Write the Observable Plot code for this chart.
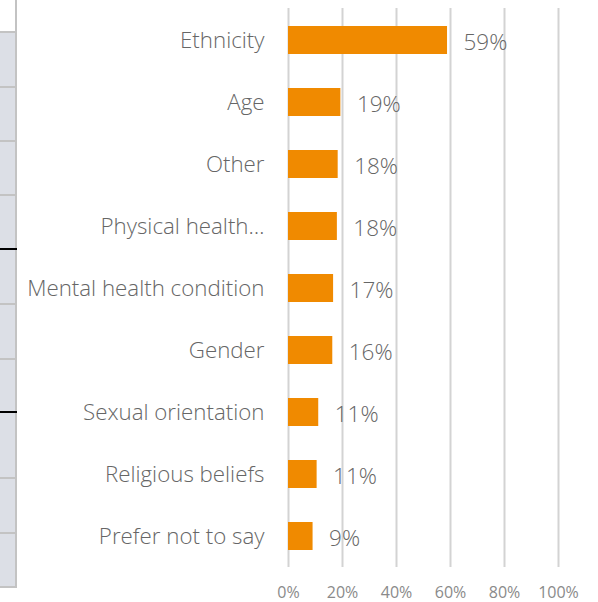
<!DOCTYPE html>
<html>
<head>
<meta charset="utf-8">
<script src="https://cdn.jsdelivr.net/npm/d3@7"></script>
<script src="https://cdn.jsdelivr.net/npm/@observablehq/plot@0.6"></script>
<style>
  html, body { margin: 0; padding: 0; background: #fff; }
  #wrap { position: relative; width: 598px; height: 602px; overflow: hidden; }
  #strip { position: absolute; left: 0; top: 0; width: 15px; height: 586px;
           background: #dcdfe6; border-right: 2px solid #c3c3c3; border-bottom: 2px solid #c3c3c3; }
  #strip .cell { position: absolute; left: 0; width: 15px; }
  #chart { position: absolute; left: 0; top: 0; }
</style>
</head>
<body>
<div id="wrap">
  <div id="strip"></div>
  <div id="chart"></div>
</div>
<script>
const categories = ["Ethnicity", "Age", "Other", "Physical health…", "Mental health condition",
                    "Gender", "Sexual orientation", "Religious beliefs", "Prefer not to say"];
const values = [58.9, 19.4, 18.4, 18.1, 16.7, 16.4, 11.2, 10.6, 9.1];
const labels = ["59%", "19%", "18%", "18%", "17%", "16%", "11%", "11%", "9%"];
const xTicks = [0, 20, 40, 60, 80, 100];

// decorative spreadsheet edge on the left
(function () {
  const strip = document.getElementById("strip");
  const top = document.createElement("div");
  top.className = "cell";
  top.style.top = "0px"; top.style.height = "31px"; top.style.background = "#fff";
  strip.appendChild(top);
  const lines = [[31, "#c3c3c3"], [86, "#c3c3c3"], [140, "#c3c3c3"], [194, "#c3c3c3"], [248, "#000"],
                 [303, "#c3c3c3"], [358, "#c3c3c3"], [411, "#000"], [477, "#c3c3c3"], [532, "#c3c3c3"]];
  for (const [y, c] of lines) {
    const d = document.createElement("div");
    d.className = "cell";
    d.style.top = y + "px"; d.style.height = "2px"; d.style.background = c;
    if (c === "#000") d.style.width = "17px";
    strip.appendChild(d);
  }
})();

const data = categories.map((c, i) => ({category: c, value: values[i], label: labels[i]}));

const chart = Plot.plot({
  width: 598,
  height: 602,
  marginTop: 8,
  marginBottom: 35,
  marginLeft: 288,
  marginRight: 40,
  style: { fontFamily: "'Open Sans', sans-serif", background: "transparent" },
  x: {
    domain: [0, 100],
    ticks: xTicks,
    tickFormat: d => d + "%",
    grid: false,
    label: null
  },
  y: {
    domain: categories,
    paddingInner: 0.55,
    paddingOuter: 0.283,
    label: null
  },
  marks: [
    Plot.ruleX(xTicks, { stroke: "#d3d3d3", strokeWidth: 2 }),
    Plot.barX(data, { x: "value", y: "category", fill: "#f08a00" }),
    Plot.text(data, {
      x: "value", y: "category", text: "label",
      textAnchor: "start", dx: 16, dy: 2,
      fontSize: 22.5, fill: "#666666", fontWeight: 300
    }),
    Plot.axisY({
      tickSize: 0, tickPadding: 24, fontSize: 22.3, color: "#666666",
      label: null, fontWeight: 300
    }),
    Plot.axisX({
      ticks: xTicks, tickFormat: d => d + "%", tickSize: 0, tickPadding: 19,
      fontSize: 16, color: "#8a8a8a", label: null
    })
  ]
});
document.getElementById("chart").appendChild(chart);
</script>
</body>
</html>
